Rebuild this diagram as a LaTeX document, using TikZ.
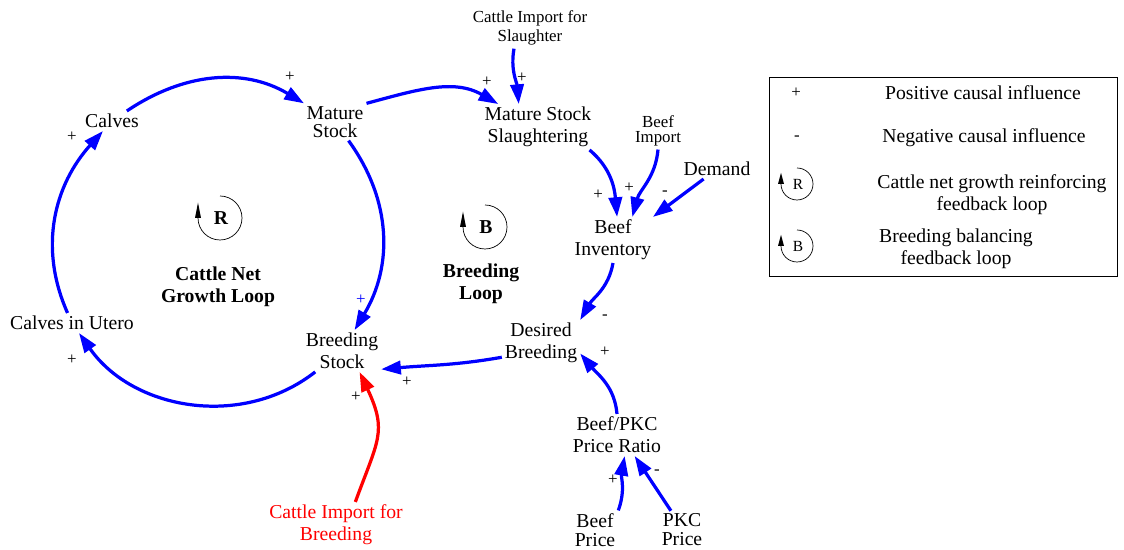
\documentclass[tikz,border=0pt]{standalone}
\usepackage{fontspec}
\setmainfont{Liberation Serif}
\usetikzlibrary{arrows.meta}
% loop symbol: x, y, radius, letter font, name, letter
\newcommand{\fbloop}[6]{ \draw[black, line width=0.5pt] (#1,#2) ++(90:#3) arc[start angle=90, end angle=-180, radius=#3]; \fill[black] (#1-#3-3,#2) -- (#1-#3+3,#2) -- (#1-#3,#2+#3*0.7) -- cycle; \node[font=#4, inner sep=0pt] (#5) at (#1+1,#2) {#6};}

\begin{document}
\begin{tikzpicture}[x=0.025cm,y=0.025cm,
  var/.style={align=center, inner sep=2pt, font=\fontsize{14}{15.5}\selectfont},
  smallvar/.style={align=center, inner sep=2pt, font=\fontsize{12}{14}\selectfont},
  looplabel/.style={align=center, font=\fontsize{14}{15.6}\selectfont\bfseries},
  legtext/.style={align=center, font=\fontsize{14}{15.6}\selectfont},
  sgn/.style={inner sep=0pt, font=\fontsize{12}{12}\selectfont},
  link/.style={blue, line width=2.3pt, -{Triangle[length=14pt,width=9.5pt]}}]
        \useasboundingbox (0,0) rectangle (1124,550);
        % variables
        \node[var] (calves) at (112,429) {Calves};
        \node[var, font=\fontsize{14}{12.8}\selectfont] (mature) at (335,428) {Mature\\Stock};
        \node[var] (bstock) at (342,199) {Breeding\\Stock};
        \node[var] (utero) at (72,227) {Calves in Utero};
        \node[var] (mss) at (538,423) {Mature Stock\\Slaughtering};
        \node[smallvar] (cis) at (530,522) {Cattle Import for\\Slaughter};
        \node[smallvar, font=\fontsize{12}{11}\selectfont] (bimp) at (658,419) {Beef\\Import};
        \node[var] (demand) at (717,381) {Demand};
        \node[var] (binv) at (613,310) {Beef\\Inventory};
        \node[var] (desired) at (541,207) {Desired\\Breeding};
        \node[var] (ratio) at (617,115) {Beef/PKC\\Price Ratio};
        \node[var, font=\fontsize{14}{13.5}\selectfont] (bprice) at (595,20) {Beef\\Price};
        \node[var, font=\fontsize{14}{13.5}\selectfont] (pkc) at (682,20) {PKC\\Price};
        \node[var, red] (cib) at (336,25) {Cattle Import for\\Breeding};
        % loops
        \fbloop{220}{332}{22}{\fontsize{14}{14}\selectfont\bfseries}{loopR}{R}
        \node[looplabel] (cngl) at (218,263) {Cattle Net\\Growth Loop};
        \fbloop{485}{323}{22}{\fontsize{14}{14}\selectfont\bfseries}{loopB}{B}
        \node[looplabel] (brl) at (481,266) {Breeding\\Loop};
        % links
        \draw[link] (calves) to[out=34,in=149] (mature);
        \draw[link] (mature) to[out=-54,in=59] (bstock);
        \draw[link] (bstock) to[out=218,in=-55] (utero);
        \draw[link] (utero) to[out=114,in=228] (calves);
        \draw[link] (mature.north east) to[out=15,in=150] (mss.150);
        \draw[link] ([xshift=-0.4cm]cis.south) to[out=-100,in=95] (mss.130);
        \draw[link] (mss.-24) to[out=-40,in=95] (binv.80);
        \draw[link] (bimp.south) to[out=-95,in=75] (binv.50);
        \draw[link] (demand) -- (binv.30);
        \draw[link] (binv.south) to[out=-100,in=60] (desired.north east);
        \draw[link] (desired.200) to[out=190,in=5] (bstock.-25);
        \draw[link] (ratio.north) to[out=95,in=-50] (desired.-15);
        \draw[link] (bprice.north east) to[out=70,in=-100] (ratio.-70);
        \draw[link] (pkc.120) -- (ratio.-50);
        \draw[link, red] (cib.50) to[out=70,in=-65,looseness=1.3] (bstock.-50);
        % signs
        \node[sgn] (s1) at (290,473) {+};
        \node[sgn, blue] (s2) at (361,250) {+};
        \node[sgn] (s3) at (72,190) {+};
        \node[sgn] (s4) at (72,413) {+};
        \node[sgn] (s5) at (487,468) {+};
        \node[sgn] (s6) at (522,472) {+};
        \node[sgn] (s7) at (598,355) {+};
        \node[sgn] (s8) at (629,362) {+};
        \node[sgn] (s9) at (665,357) {-};
        \node[sgn] (s10) at (605,233) {-};
        \node[sgn] (s11) at (407,168) {+};
        \node[sgn] (s12) at (605,198) {+};
        \node[sgn] (s13) at (613,70) {+};
        \node[sgn] (s14) at (657,78) {-};
        \node[sgn] (s15) at (356,153) {+};
        % legend
        \draw[line width=0.6pt] (769,473) rectangle (1117,274);
        \node[sgn] (lp) at (796,457) {+};
        \node[legtext] (lpt) at (983,457) {Positive causal influence};
        \node[sgn] (lm) at (797,412) {-};
        \node[legtext] (lmt) at (984,412) {Negative causal influence};
        \fbloop{797}{366}{16}{\fontsize{11}{11}\selectfont}{legR}{R}
        \node[legtext] (lrt) at (992,355) {Cattle net growth reinforcing\\feedback loop};
        \fbloop{797}{304}{16}{\fontsize{11}{11}\selectfont}{legB}{B}
        \node[legtext] (lbt) at (956,301) {Breeding balancing\\feedback loop};
\end{tikzpicture}
\end{document}
